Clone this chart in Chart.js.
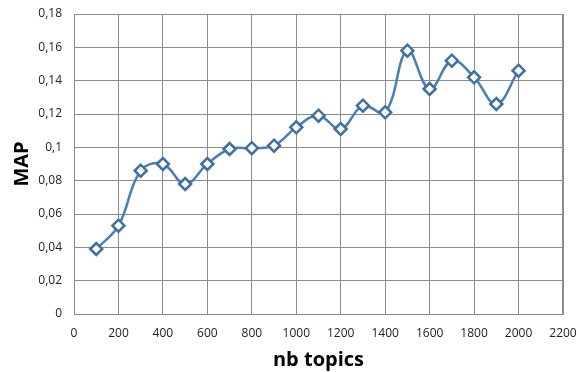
<!DOCTYPE html>
<html>
<head>
<meta charset="utf-8">
<script src="https://cdn.jsdelivr.net/npm/chart.js@4/dist/chart.umd.min.js"></script>
<style>
html,body{margin:0;padding:0;background:#fff;}
#wrap{width:577px;height:372px;position:relative;}
</style>
</head>
<body>
<div id="wrap"><canvas id="c" width="577" height="372"></canvas></div>
<script>
const topics = [100,200,300,400,500,600,700,800,900,1000,1100,1200,1300,1400,1500,1600,1700,1800,1900,2000];
const mapValues = [0.039,0.053,0.086,0.090,0.078,0.090,0.099,0.0995,0.101,0.112,0.119,0.111,0.125,0.121,0.158,0.135,0.152,0.142,0.126,0.146];
const xTitle = 'nb topics';
const yTitle = 'MAP';

const fmt = v => String(Math.round(v*1000)/1000).replace('.', ',');

new Chart(document.getElementById('c'), {
  type: 'line',
  data: {
    datasets: [{
      data: topics.map((t,i)=>({x:t,y:mapValues[i]})),
      borderColor: '#4a7ebb',
      borderWidth: 2.5,
      tension: 0.4,
      pointStyle: 'rectRot',
      pointRadius: 6,
      pointBorderWidth: 2.5,
      pointBackgroundColor: '#ffffff',
      pointBorderColor: '#3f6fa8'
    }]
  },
  options: {
    responsive: false,
    animation: false,
    layout: {padding: {top: 14, right: 0, left: 0, bottom: 0}},
    plugins: {legend: {display: false}, tooltip: {enabled: false}},
    scales: {
      x: {
        type: 'linear', min: 0, max: 2200,
        ticks: {stepSize: 200, color: '#222', font: {family: 'Open Sans', size: 12}, padding: 12, maxRotation: 0, callback: v => String(v)},
        grid: {color: '#8c8c8c', lineWidth: 1, drawTicks: false},
        border: {color: '#8c8c8c'},
        title: {display: true, text: xTitle, color: '#000', font: {family: 'Open Sans', size: 20, weight: 'bold', lineHeight: 1.0}, padding: {top: 0, bottom: 2}},
        afterFit: s => { s.height = 58; s.paddingRight = 14; s.paddingLeft = 0; }
      },
      y: {
        min: 0, max: 0.18,
        ticks: {stepSize: 0.02, color: '#222', font: {family: 'Open Sans', size: 12}, padding: 12, callback: v => fmt(v)},
        grid: {color: '#8c8c8c', lineWidth: 1, drawTicks: false},
        border: {color: '#8c8c8c'},
        title: {display: true, text: yTitle, color: '#000', font: {family: 'Open Sans', size: 20, weight: 'bold'}, padding: {top: 10, bottom: 0}},
        afterFit: s => { s.width = 74; s.paddingTop = 0; s.paddingBottom = 0; }
      }
    }
  },
  plugins: [{
    id: 'rightTop',
    afterDraw(chart){
      const {ctx, chartArea:a} = chart;
      ctx.save();
      ctx.strokeStyle = '#8c8c8c'; ctx.lineWidth = 1;
      ctx.beginPath();
      ctx.moveTo(a.left, a.top+0.5); ctx.lineTo(a.right, a.top+0.5);
      ctx.moveTo(a.right-0.5, a.top); ctx.lineTo(a.right-0.5, a.bottom);
      ctx.stroke();
      ctx.restore();
    }
  }]
});
</script>
</body>
</html>
